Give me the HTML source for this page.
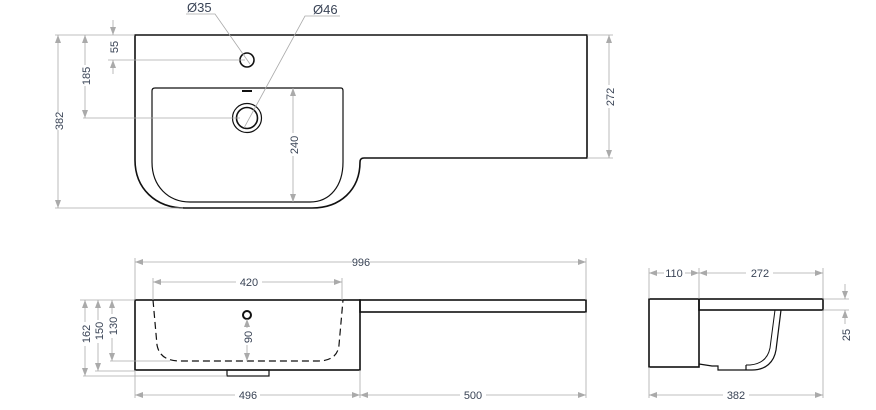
<!DOCTYPE html>
<html><head><style>
html,body{margin:0;padding:0;background:#fff;}
svg{display:block;}
text{font-family:"Liberation Sans",sans-serif;font-size:11px;fill:#3a4456;}
.o{fill:none;stroke:#111;stroke-width:1.6;}
.d{fill:none;stroke:#aaa;stroke-width:0.8;}
.a{fill:#aaa;}
</style></head><body>
<svg width="876" height="410" viewBox="0 0 876 410" xmlns="http://www.w3.org/2000/svg">
<defs>
<marker id="m" markerWidth="8" markerHeight="6" refX="8" refY="3" orient="auto-start-reverse" markerUnits="userSpaceOnUse"><path d="M0,0 L8,3 L0,6 z" fill="#aaa"/></marker>
</defs>
<!-- TOP VIEW -->
<path class="o" d="M135,35 H587 V158 H364 Q360,158 360,162 C360,190 340,208 312,208 H185 C155,208 135,188 135,160 Z"/>
<path class="o" style="stroke-width:1.2" d="M155,88 H341 Q343,88 343,91 V162 C343,186 330,202 310,202 H190 C168,202 152,186 152,162 V91 Q152,88 155,88 Z"/>
<circle class="o" cx="247" cy="60" r="7"/>
<circle class="o" style="stroke-width:1.2" cx="247" cy="118" r="14.5"/>
<circle class="o" cx="247" cy="118" r="10.5"/>
<rect x="242" y="90" width="10" height="2" fill="#111"/>
<!-- top dims -->
<line class="d" x1="55" y1="35" x2="135" y2="35"/>
<line class="d" x1="55" y1="208" x2="183" y2="208"/>
<line class="d" x1="108" y1="60" x2="245" y2="60"/>
<line class="d" x1="83" y1="118" x2="240" y2="118"/>
<line class="d" x1="58" y1="35" x2="58" y2="112" marker-start="url(#m)"/>
<line class="d" x1="58" y1="130" x2="58" y2="208" marker-end="url(#m)"/>
<text transform="translate(63,121) rotate(-90)" text-anchor="middle">382</text>
<line class="d" x1="85" y1="35" x2="85" y2="65" marker-start="url(#m)"/>
<line class="d" x1="85" y1="86" x2="85" y2="118" marker-end="url(#m)"/>
<text transform="translate(90,76) rotate(-90)" text-anchor="middle">185</text>
<line class="d" x1="113" y1="20" x2="113" y2="35" marker-end="url(#m)"/>
<line class="d" x1="113" y1="74" x2="113" y2="60" marker-end="url(#m)"/>
<text transform="translate(118,47) rotate(-90)" text-anchor="middle">55</text>
<line class="d" x1="293" y1="88" x2="293" y2="133" marker-start="url(#m)"/>
<line class="d" x1="293" y1="156" x2="293" y2="202" marker-end="url(#m)"/>
<text transform="translate(298,145) rotate(-90)" text-anchor="middle">240</text>
<line class="d" x1="587" y1="35" x2="613" y2="35"/>
<line class="d" x1="587" y1="158" x2="613" y2="158"/>
<line class="d" x1="609" y1="35" x2="609" y2="85" marker-start="url(#m)"/>
<line class="d" x1="609" y1="108" x2="609" y2="158" marker-end="url(#m)"/>
<text transform="translate(614,97) rotate(-90)" text-anchor="middle">272</text>
<polyline class="d" points="186,14 215,14 250,64"/>
<text x="187" y="12" style="font-size:13px">Ø35</text>
<polyline class="d" points="340,16 305,16 244,128"/>
<text x="313" y="14" style="font-size:13px">Ø46</text>
<!-- FRONT VIEW -->
<rect class="o" x="135" y="300" width="225" height="70"/>
<rect class="o" x="360" y="300" width="226" height="12"/>
<rect class="o" style="stroke-width:1.2" x="227" y="370" width="42" height="6"/>
<path fill="none" stroke="#111" stroke-width="1.2" stroke-dasharray="7,4" d="M153,300 L157,345 C159,356 167,361 180,361 H318 C330,361 338,356 339,345 L343,300"/>
<circle cx="247" cy="315" r="4" fill="none" stroke="#111" stroke-width="2"/>
<line class="d" x1="135" y1="258" x2="135" y2="300"/>
<line class="d" x1="586" y1="258" x2="586" y2="300"/>
<line class="d" x1="135" y1="262" x2="352" y2="262" marker-start="url(#m)"/>
<line class="d" x1="370" y1="262" x2="586" y2="262" marker-end="url(#m)"/>
<text x="361" y="266" text-anchor="middle">996</text>
<line class="d" x1="153" y1="278" x2="153" y2="300"/>
<line class="d" x1="342" y1="278" x2="342" y2="300"/>
<line class="d" x1="153" y1="282" x2="236" y2="282" marker-start="url(#m)"/>
<line class="d" x1="262" y1="282" x2="342" y2="282" marker-end="url(#m)"/>
<text x="249" y="286" text-anchor="middle">420</text>
<line class="d" x1="135" y1="370" x2="135" y2="398"/>
<line class="d" x1="360" y1="370" x2="360" y2="398"/>
<line class="d" x1="586" y1="312" x2="586" y2="398"/>
<line class="d" x1="135" y1="395" x2="235" y2="395" marker-start="url(#m)"/>
<line class="d" x1="260" y1="395" x2="360" y2="395" marker-end="url(#m)"/>
<text x="248" y="399" text-anchor="middle">496</text>
<line class="d" x1="360" y1="395" x2="460" y2="395" marker-start="url(#m)"/>
<line class="d" x1="486" y1="395" x2="586" y2="395" marker-end="url(#m)"/>
<text x="473" y="399" text-anchor="middle">500</text>
<line class="d" x1="80" y1="300" x2="135" y2="300"/>
<line class="d" x1="83" y1="376" x2="227" y2="376"/>
<line class="d" x1="95" y1="371" x2="135" y2="371"/>
<line class="d" x1="110" y1="361" x2="170" y2="361"/>
<line class="d" x1="85" y1="300" x2="85" y2="322" marker-start="url(#m)"/>
<line class="d" x1="85" y1="346" x2="85" y2="376" marker-end="url(#m)"/>
<text transform="translate(90,334) rotate(-90)" text-anchor="middle">162</text>
<line class="d" x1="98" y1="300" x2="98" y2="320" marker-start="url(#m)"/>
<line class="d" x1="98" y1="343" x2="98" y2="371" marker-end="url(#m)"/>
<text transform="translate(103,331) rotate(-90)" text-anchor="middle">150</text>
<line class="d" x1="112" y1="300" x2="112" y2="314" marker-start="url(#m)"/>
<line class="d" x1="112" y1="338" x2="112" y2="361" marker-end="url(#m)"/>
<text transform="translate(117,326) rotate(-90)" text-anchor="middle">130</text>
<line class="d" x1="247" y1="319" x2="247" y2="328" marker-start="url(#m)"/>
<line class="d" x1="247" y1="345" x2="247" y2="361" marker-end="url(#m)"/>
<text transform="translate(252,337) rotate(-90)" text-anchor="middle">90</text>
<!-- SIDE VIEW -->
<rect class="o" x="649" y="299" width="50" height="68"/>
<rect class="o" x="699" y="299" width="124" height="11"/>
<path fill="none" stroke="#111" stroke-width="1.2" d="M781,310 L776,350 C774,362 766,370 752,370 H718 V366 H712 L699,364"/>
<path fill="none" stroke="#111" stroke-width="1" d="M775,310 L770,348 C768,358 762,364 750,365 H746"/>
<line stroke="#111" stroke-width="1.2" x1="746" y1="365" x2="746" y2="370"/>
<line class="d" x1="649" y1="268" x2="649" y2="299"/>
<line class="d" x1="699" y1="268" x2="699" y2="299"/>
<line class="d" x1="823" y1="268" x2="823" y2="299"/>
<line class="d" x1="649" y1="273" x2="664" y2="273" marker-start="url(#m)"/>
<line class="d" x1="685" y1="273" x2="699" y2="273" marker-end="url(#m)"/>
<text x="674" y="277" text-anchor="middle">110</text>
<line class="d" x1="699" y1="273" x2="746" y2="273" marker-start="url(#m)"/>
<line class="d" x1="773" y1="273" x2="823" y2="273" marker-end="url(#m)"/>
<text x="760" y="277" text-anchor="middle">272</text>
<line class="d" x1="649" y1="367" x2="649" y2="398"/>
<line class="d" x1="823" y1="310" x2="823" y2="398"/>
<line class="d" x1="649" y1="395" x2="723" y2="395" marker-start="url(#m)"/>
<line class="d" x1="749" y1="395" x2="823" y2="395" marker-end="url(#m)"/>
<text x="736" y="399" text-anchor="middle">382</text>
<line class="d" x1="823" y1="299" x2="849" y2="299"/>
<line class="d" x1="823" y1="310" x2="849" y2="310"/>
<line class="d" x1="845" y1="284" x2="845" y2="299" marker-end="url(#m)"/>
<line class="d" x1="845" y1="324" x2="845" y2="310" marker-end="url(#m)"/>
<text transform="translate(850,335) rotate(-90)" text-anchor="middle">25</text>
</svg>
</body></html>
